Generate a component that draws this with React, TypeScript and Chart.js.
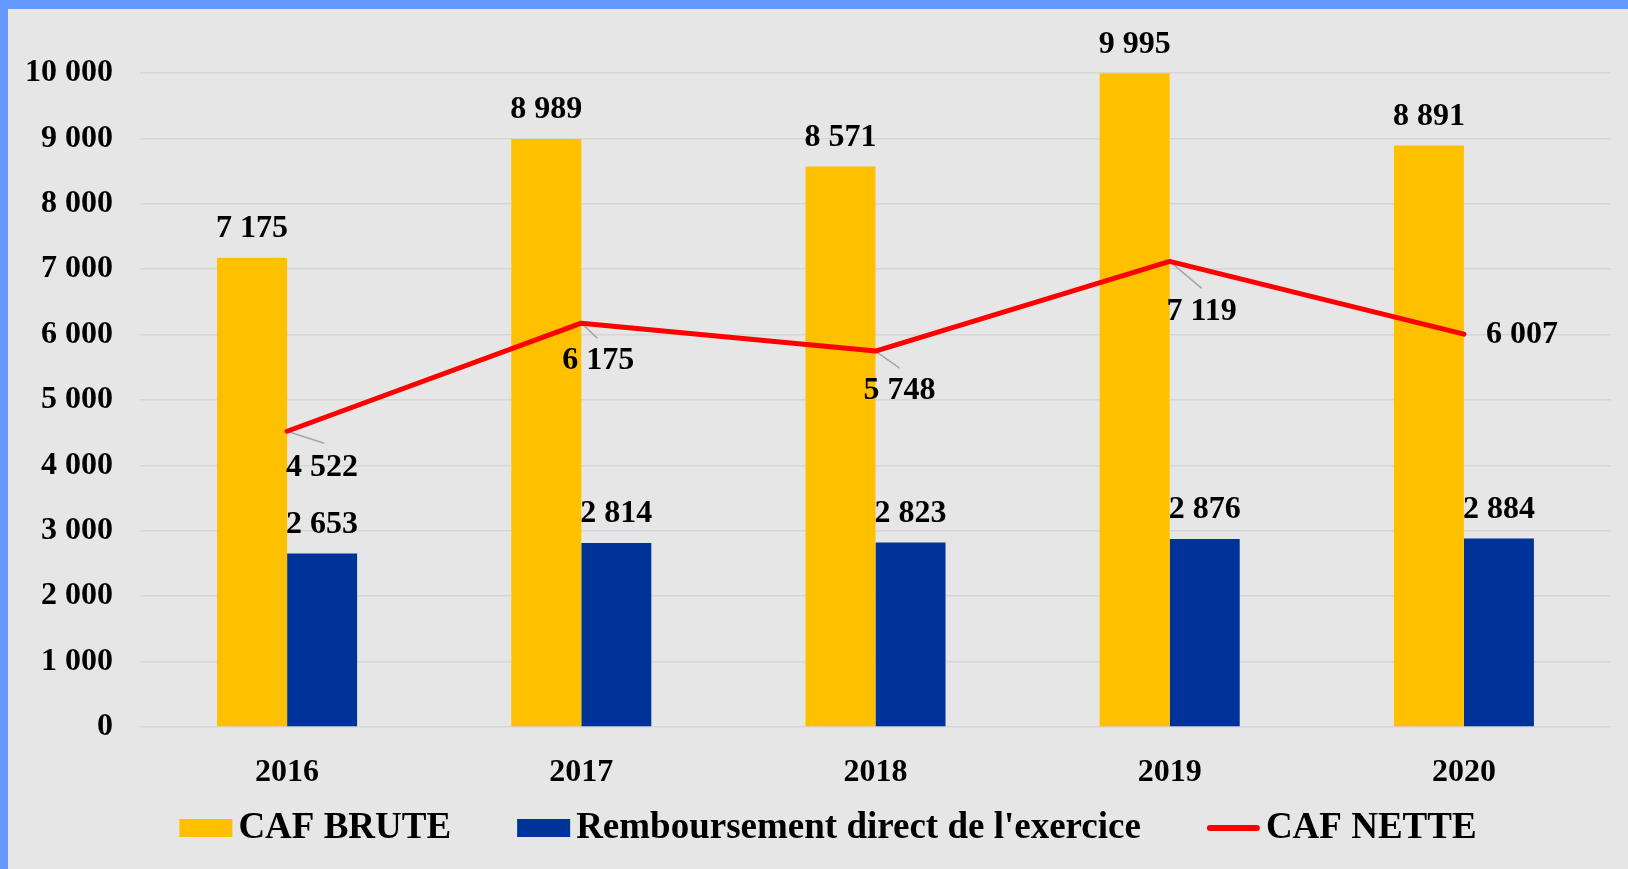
import React, { useEffect, useRef } from "react";
import { Chart, registerables } from "chart.js";

Chart.register(...registerables);

const categories = ["2016", "2017", "2018", "2019", "2020"];
const cafBrute = [7175, 8989, 8571, 9995, 8891];
const remboursement = [2653, 2814, 2823, 2876, 2884];
const cafNette = [4522, 6175, 5748, 7119, 6007];
const seriesNames = ["CAF BRUTE", "Remboursement direct de l'exercice", "CAF NETTE"];

// label offsets (style) for the line labels, relative to the point
const lineLabelOffsets = [
  [35, 36],
  [17, 38],
  [24, 40],
  [32, 50],
  [58, 1],
];
const leaderOffsets: (number[] | null)[] = [
  [37, 12],
  [16, 15],
  [24, 17],
  [32, 27],
  null,
];

const W = 1628;
const H = 869;
const FONT = '"Liberation Serif", "Times New Roman", serif';
const YELLOW = "#FFC000";
const BLUE = "#003399";
const RED = "#FF0000";

function fmt(v: number) {
  const s = Math.round(v).toString();
  return s.replace(/\B(?=(\d{3})+(?!\d))/g, " ");
}

const labelsPlugin = {
  id: "valueLabels",
  beforeDatasetsDraw(chart: any) {
    const ctx = chart.ctx;
    const meta = chart.getDatasetMeta(2);
    ctx.save();
    ctx.strokeStyle = "#A6A6A6";
    ctx.lineWidth = 1.5;
    meta.data.forEach((pt: any, i: number) => {
      const lo = leaderOffsets[i];
      if (!lo) return;
      ctx.beginPath();
      ctx.moveTo(pt.x, pt.y);
      ctx.lineTo(pt.x + lo[0], pt.y + lo[1]);
      ctx.stroke();
    });
    ctx.restore();
  },
  afterDatasetsDraw(chart: any) {
    const ctx = chart.ctx;
    ctx.save();
    ctx.font = `bold 32px ${FONT}`;
    ctx.fillStyle = "#000";
    ctx.textAlign = "center";
    ctx.textBaseline = "middle";
    [0, 1].forEach((di) => {
      const meta = chart.getDatasetMeta(di);
      const values = chart.data.datasets[di].data as number[];
      meta.data.forEach((bar: any, i: number) => {
        ctx.fillText(fmt(values[i]), bar.x, bar.y - 29);
      });
    });
    const lm = chart.getDatasetMeta(2);
    const lv = chart.data.datasets[2].data as number[];
    lm.data.forEach((pt: any, i: number) => {
      const o = lineLabelOffsets[i];
      ctx.fillText(fmt(lv[i]), pt.x + o[0], pt.y + o[1]);
    });
    ctx.restore();
  },
  afterDraw(chart: any) {
    const ctx = chart.ctx;
    ctx.save();
    ctx.font = `bold 37px ${FONT}`;
    ctx.textBaseline = "middle";
    ctx.textAlign = "left";
    const boxW = 53;
    const textGap = 6;
    const itemGap = 66;
    const widths = seriesNames.map((n) => ctx.measureText(n).width);
    const total =
      widths.reduce((a, b) => a + b, 0) + 3 * (boxW + textGap) + 2 * itemGap;
    let x = 828 - total / 2;
    const cy = 828;
    seriesNames.forEach((n, i) => {
      if (i < 2) {
        ctx.fillStyle = i === 0 ? YELLOW : BLUE;
        ctx.fillRect(x, cy - 9, boxW, 18);
      } else {
        ctx.strokeStyle = RED;
        ctx.lineWidth = 6;
        ctx.lineCap = "round";
        ctx.beginPath();
        ctx.moveTo(x + 3, cy);
        ctx.lineTo(x + boxW - 3, cy);
        ctx.stroke();
      }
      ctx.fillStyle = "#000";
      ctx.fillText(n, x + boxW + textGap, cy);
      x += boxW + textGap + widths[i] + itemGap;
    });
    ctx.restore();
  },
};

export default function App() {
  const ref = useRef<HTMLCanvasElement | null>(null);
  useEffect(() => {
    if (!ref.current) return;
    const chart = new Chart(ref.current, {
      type: "bar",
      data: {
        labels: categories,
        datasets: [
          {
            label: seriesNames[0],
            data: cafBrute,
            backgroundColor: YELLOW,
            categoryPercentage: 0.476,
            barPercentage: 1,
            order: 1,
          } as any,
          {
            label: seriesNames[1],
            data: remboursement,
            backgroundColor: BLUE,
            categoryPercentage: 0.476,
            barPercentage: 1,
            order: 2,
          } as any,
          {
            type: "line",
            label: seriesNames[2],
            data: cafNette,
            borderColor: RED,
            backgroundColor: RED,
            borderWidth: 5,
            pointRadius: 0,
            borderCapStyle: "round",
            borderJoinStyle: "round",
            tension: 0,
            order: 0,
          } as any,
        ],
      },
      options: {
        responsive: false,
        animation: false,
        layout: { padding: { top: 73, right: 17, left: 0, bottom: 0 } },
        plugins: {
          legend: { display: false },
          tooltip: { enabled: false },
        },
        scales: {
          x: {
            grid: { display: false },
            border: { display: false },
            ticks: {
              color: "#000",
              font: { family: FONT, size: 32, weight: "bold" },
              padding: 19,
            },
            afterFit: (s: any) => {
              s.height = 142;
            },
          },
          y: {
            min: 0,
            max: 10000,
            ticks: {
              stepSize: 1000,
              color: "#000",
              font: { family: FONT, size: 32, weight: "bold" },
              padding: 27,
              callback: (v: any) => fmt(Number(v)),
            },
            grid: { color: "#D6D6D6", lineWidth: 1.5, drawTicks: false },
            border: { display: false },
            afterFit: (s: any) => {
              s.width = 140;
            },
          },
        },
      } as any,
      plugins: [labelsPlugin],
    });
    return () => chart.destroy();
  }, []);

  return (
    <div
      style={{
        position: "fixed",
        left: 0,
        top: 0,
        width: W,
        height: H,
        background: "#6699FF",
        overflow: "hidden",
      }}
    >
      <div
        style={{
          position: "absolute",
          left: 8,
          top: 9,
          right: 0,
          bottom: 0,
          background: "#E6E6E6",
        }}
      />
      <canvas
        ref={ref}
        width={W}
        height={H}
        style={{ position: "absolute", left: 0, top: 0, width: W, height: H }}
      />
    </div>
  );
}
